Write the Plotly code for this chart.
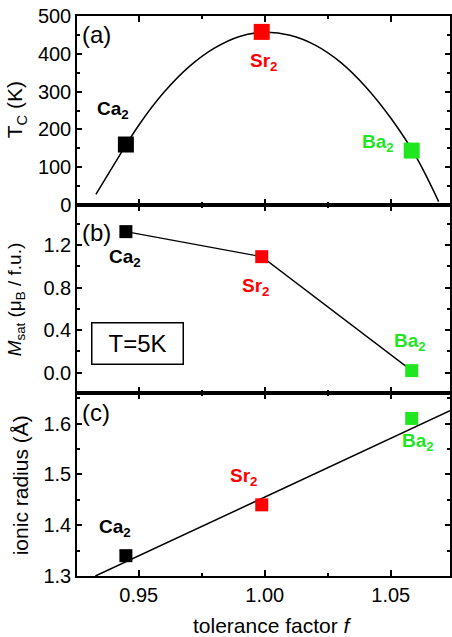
import plotly.graph_objects as go

# ---------------- data ----------------
samples = ["Ca<sub>2</sub>", "Sr<sub>2</sub>", "Ba<sub>2</sub>"]
colors = ["#000000", "#ff0000", "#1fe61f"]
tol_factor = [0.9449, 0.9988, 1.0583]

tc_values = [160, 458, 144]            # T_C (K)
msat_values = [1.325, 1.09, 0.02]      # M_sat (mu_B / f.u.)
radius_values = [1.34, 1.44, 1.61]     # ionic radius (Å)

# parabolic guide curve
tc_curve_f = [0.933, 0.940, 0.950, 0.960, 0.970, 0.980, 0.990, 1.000,
              1.010, 1.020, 1.030, 1.040, 1.050, 1.060, 1.069]
tc_curve_v = [28, 105, 211, 298, 366, 415, 446, 457,
              449, 423, 378, 313, 230, 128, 9]

# linear guide line
rad_line_f = [0.9328, 1.0735]
rad_line_v = [1.300, 1.625]

x_range = [0.9255, 1.0735]
x_ticks = [0.95, 1.00, 1.05]
x_ticktext = ["0.95", "1.00", "1.05"]

# ---------------- figure ----------------
FONT = "Liberation Sans, Arial, sans-serif"
fig = go.Figure()

# panel (a)
fig.add_trace(go.Scatter(x=tc_curve_f, y=tc_curve_v, mode="lines",
                         line=dict(color="black", width=1.5, shape="spline"),
                         xaxis="x", yaxis="y", showlegend=False, hoverinfo="skip"))
fig.add_trace(go.Scatter(x=tol_factor, y=tc_values, mode="markers",
                         marker=dict(symbol="square", size=16, color=colors),
                         xaxis="x", yaxis="y", showlegend=False))
# panel (b)
fig.add_trace(go.Scatter(x=tol_factor, y=msat_values, mode="lines+markers",
                         line=dict(color="black", width=1.3),
                         marker=dict(symbol="square", size=13, color=colors),
                         xaxis="x2", yaxis="y2", showlegend=False))
# panel (c)
fig.add_trace(go.Scatter(x=rad_line_f, y=rad_line_v, mode="lines",
                         line=dict(color="black", width=1.5),
                         xaxis="x3", yaxis="y3", showlegend=False, hoverinfo="skip"))
fig.add_trace(go.Scatter(x=tol_factor, y=radius_values, mode="markers",
                         marker=dict(symbol="square", size=13, color=colors),
                         xaxis="x3", yaxis="y3", showlegend=False))

ax_common = dict(showline=True, linecolor="black", linewidth=1.5, mirror="allticks",
                 ticks="inside", tickcolor="black", tickwidth=1.5,
                 showgrid=False, zeroline=False,
                 tickfont=dict(family=FONT, size=20, color="black"))

xcommon = dict(ax_common, range=x_range, tickvals=x_ticks, ticktext=x_ticktext, ticklen=6,
               minor=dict(ticks="inside", ticklen=3, tickwidth=1.5, tickcolor="black",
                          tickvals=[0.975, 1.025]))

H_TOP, H_BOT = 16, 61
plot_h = 637 - H_TOP - H_BOT
dom_c = [0, (576 - 393) / plot_h]
dom_b = [dom_c[1], (576 - 205) / plot_h]
dom_a = [dom_b[1], 1]

fig.update_layout(
    width=452, height=637,
    margin=dict(l=77, r=0, t=H_TOP, b=H_BOT),
    paper_bgcolor="white", plot_bgcolor="white",
    font=dict(family=FONT, color="black"),
    xaxis=dict(xcommon, anchor="y", showticklabels=False, matches="x3"),
    xaxis2=dict(xcommon, anchor="y2", showticklabels=False, matches="x3"),
    xaxis3=dict(xcommon, anchor="y3", showticklabels=True),
    yaxis=dict(ax_common, domain=dom_a, anchor="x", range=[0, 500], dtick=100, ticklen=5,
               minor=dict(ticks="inside", ticklen=3, tickwidth=1.5, tickcolor="black", dtick=50)),
    yaxis2=dict(ax_common, domain=dom_b, anchor="x2", range=[-0.19, 1.575],
                tickvals=[0.0, 0.4, 0.8, 1.2], ticktext=["0.0", "0.4", "0.8", "1.2"], ticklen=5,
                minor=dict(ticks="inside", ticklen=3, tickwidth=1.5, tickcolor="black",
                           tickvals=[-0.2, 0.2, 0.6, 1.0, 1.4])),
    yaxis3=dict(ax_common, domain=dom_c, anchor="x3", range=[1.3, 1.66],
                tickvals=[1.3, 1.4, 1.5, 1.6], ticktext=["1.3", "1.4", "1.5", "1.6"], ticklen=5,
                minor=dict(ticks="inside", ticklen=3, tickwidth=1.5, tickcolor="black",
                           tickvals=[1.35, 1.45, 1.55, 1.65])),
)

ann = []
# panel letters
for ref, ytop in [("", 0.90), ("2", 0.86), ("3", 0.89)]:
    pass
ann.append(dict(text="(a)", xref="x domain", yref="y domain", x=0.008, y=0.90,
                xanchor="left", yanchor="middle", showarrow=False,
                font=dict(family=FONT, size=24)))
ann.append(dict(text="(b)", xref="x2 domain", yref="y2 domain", x=0.008, y=1 - (232 - 205) / 188,
                xanchor="left", yanchor="middle", showarrow=False,
                font=dict(family=FONT, size=24)))
ann.append(dict(text="(c)", xref="x3 domain", yref="y3 domain", x=0.008, y=1 - (412 - 393) / 183,
                xanchor="left", yanchor="middle", showarrow=False,
                font=dict(family=FONT, size=24)))

# sample labels
label_pos = {
    "a": [(0.9397, 251), (0.9994, 378), (1.0449, 164)],
    "b": [(0.9445, 1.077), (0.9962, 0.806), (1.0575, 0.29)],
    "c": [(0.9405, 1.394), (0.9915, 1.494), (1.0607, 1.563)],
}
for key, (xr, yr) in [("a", ("x", "y")), ("b", ("x2", "y2")), ("c", ("x3", "y3"))]:
    for (lx, ly), name, col in zip(label_pos[key], samples, colors):
        ann.append(dict(text="<b>" + name + "</b>", xref=xr, yref=yr, x=lx, y=ly,
                        showarrow=False, xanchor="center", yanchor="middle",
                        font=dict(family=FONT, size=19, color=col)))

# T=5K box
ann.append(dict(text="T=5K", xref="x2", yref="y2", x=0.9496, y=0.272, showarrow=False,
                xanchor="center", yanchor="middle", width=86, height=36, borderpad=2,
                bordercolor="black", borderwidth=1.5, bgcolor="white",
                font=dict(family=FONT, size=24)))

# axis titles
def ypaper(py):
    return 1 - (py - H_TOP) / plot_h

ann.append(dict(text="T<sub>C</sub> (K)", xref="paper", yref="paper",
                x=(16 - 77) / 375, y=ypaper(110), textangle=-90, showarrow=False,
                xanchor="center", yanchor="middle", font=dict(family=FONT, size=21)))
ann.append(dict(text="<i>M</i><sub>sat</sub> (μ<sub>B</sub> / f.u.)", xref="paper", yref="paper",
                x=(16 - 77) / 375, y=ypaper(299), textangle=-90, showarrow=False,
                xanchor="center", yanchor="middle", font=dict(family=FONT, size=19)))
ann.append(dict(text="ionic radius (Å)", xref="paper", yref="paper",
                x=(20 - 77) / 375, y=ypaper(485), textangle=-90, showarrow=False,
                xanchor="center", yanchor="middle", font=dict(family=FONT, size=21)))
ann.append(dict(text="tolerance factor <i>f</i>", xref="paper", yref="paper",
                x=(274 - 77) / 375, y=ypaper(625), showarrow=False,
                xanchor="center", yanchor="middle", font=dict(family=FONT, size=21)))

fig.update_layout(annotations=ann)
fig.write_html("out.html")
